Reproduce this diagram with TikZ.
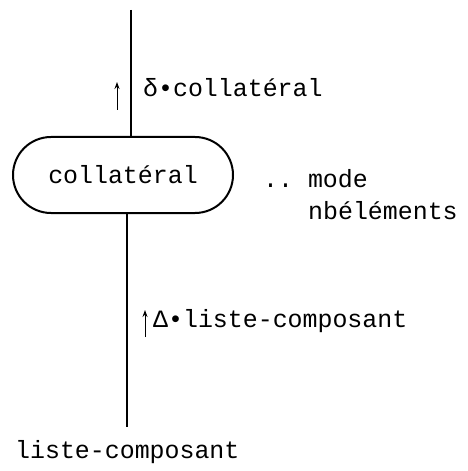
\documentclass[tikz,border=0pt]{standalone}
\usepackage{fontspec}
\setmonofont{Liberation Mono}
\usetikzlibrary{arrows.meta,positioning,shapes.misc}

\begin{document}
\begin{tikzpicture}[x=1bp, y=-1bp,
  lbl/.style={font=\ttfamily\fontsize{25}{32}\selectfont, inner sep=0pt, anchor=base west},
  unit/.style={draw, rounded rectangle, line width=2bp, minimum width=220bp, minimum height=76bp, inner sep=0pt, font=\ttfamily\fontsize{25}{32}\selectfont},
  wire/.style={line width=1.5bp},
  uparr/.style={-{Stealth[length=7bp,width=5bp]}, line width=1bp}
]
\useasboundingbox (0,0) rectangle (468,471);

\node[unit] (coll) at (123,175) {collatéral};
\coordinate (top) at (131,10);
\coordinate (bot) at (127,427);
\draw[wire] (top) -- (top |- coll.north);
\draw[wire] (bot |- coll.south) -- (bot);

\node[lbl] (delta) at (143,97) {δ•collatéral};
\coordinate (a1s) at (117,110);
\coordinate (a1e) at (117,82);
\draw[uparr] (a1s) -- (a1e);

\node[lbl] (mode) at (263,188) {.. mode};
\node[lbl] (nbel) at (308,220) {nbéléments};

\node[lbl] (liste) at (153,327) {Δ•liste-composant};
\coordinate (a2s) at (145,337);
\coordinate (a2e) at (145,310);
\draw[uparr] (a2s) -- (a2e);

\node[lbl] (out) at (15,458) {liste-composant};

\end{tikzpicture}
\end{document}
